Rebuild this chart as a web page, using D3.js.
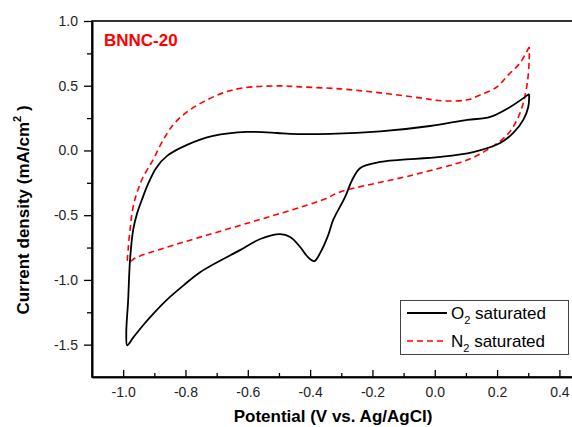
<!DOCTYPE html>
<html>
<head>
<meta charset="utf-8">
<script src="https://cdn.jsdelivr.net/npm/d3@7"></script>
<style>
  body { margin: 0; background: #fff; }
  svg { font-family: "Liberation Sans", Arial, sans-serif; }
</style>
</head>
<body>
<svg id="cv" width="572" height="427"></svg>
<script>
// O2 saturated scan (cathodic branch first, back up the anodic branch)
var o2Potential = [0.303, 0.300, 0.284, 0.252, 0.210, 0.123, 0.017, -0.111, -0.175, -0.239, -0.265, -0.288,
  -0.326, -0.342, -0.368, -0.387, -0.410, -0.432, -0.464, -0.496, -0.560, -0.625, -0.753, -0.807, -0.859, -0.897, -0.936, -0.968, -0.987,
  -0.990, -0.984, -0.978, -0.968, -0.955, -0.939, -0.920, -0.894, -0.859, -0.795, -0.711, -0.602, -0.506, -0.464, -0.336,
  -0.175, -0.015, 0.104, 0.178, 0.242, 0.303];
var o2Current = [0.437, 0.336, 0.236, 0.135, 0.058, -0.012, -0.050, -0.073, -0.089, -0.135, -0.228, -0.360,
  -0.537, -0.654, -0.793, -0.855, -0.816, -0.746, -0.669, -0.646, -0.684, -0.770, -0.940, -1.044, -1.152, -1.245, -1.350, -1.446, -1.505,
  -1.412, -1.157, -0.847, -0.615, -0.484, -0.375, -0.259, -0.135, -0.042, 0.043, 0.112, 0.143, 0.135, 0.128, 0.128,
  0.147, 0.189, 0.236, 0.259, 0.336, 0.437];

// N2 saturated scan
var n2Potential = [0.303, 0.274, 0.236, 0.200, 0.146, 0.104, 0.027, -0.047, -0.175, -0.304, -0.432, -0.496,
  -0.615, -0.679, -0.743, -0.795, -0.840, -0.875, -0.904, -0.936, -0.949, -0.961, -0.971, -0.978, -0.984, -0.984,
  -0.955, -0.361, -0.304, -0.069, 0.104, 0.168, 0.232, 0.264, 0.284, 0.297, 0.303, 0.303];
var n2Current = [0.800, 0.677, 0.584, 0.491, 0.429, 0.391, 0.383, 0.406, 0.445, 0.476, 0.491, 0.499,
  0.483, 0.445, 0.375, 0.298, 0.197, 0.066, -0.073, -0.205, -0.282, -0.367, -0.476, -0.615, -0.770, -0.862,
  -0.824, -0.383, -0.321, -0.189, -0.073, 0.004, 0.120, 0.236, 0.367, 0.522, 0.700, 0.800];

var xTicks = [-1.0, -0.8, -0.6, -0.4, -0.2, 0.0, 0.2, 0.4];
var xMinor = [-0.9, -0.7, -0.5, -0.3, -0.1, 0.1, 0.3];
var yTicks = [-1.5, -1.0, -0.5, 0.0, 0.5, 1.0];
var yMinor = [-1.25, -0.75, -0.25, 0.25, 0.75];

var svg = d3.select("#cv");

var x = d3.scaleLinear().domain([-1.1, 0.45]).range([92, 575]);
var y = d3.scaleLinear().domain([-1.75, 1.0]).range([377, 21]);

var fmt = function(d) { return d.toFixed(1); };

// frame (right edge falls outside the picture)
svg.append("rect")
  .attr("x", x(-1.1)).attr("y", y(1.0))
  .attr("width", x(0.45) - x(-1.1)).attr("height", y(-1.75) - y(1.0))
  .attr("fill", "none").attr("stroke", "#000").attr("stroke-width", 1.6);

svg.append("g").attr("transform", "translate(0," + y(-1.75) + ")")
  .call(d3.axisBottom(x).tickValues(xTicks).tickFormat(fmt).tickSizeInner(-7).tickSizeOuter(0).tickPadding(10));
svg.append("g").attr("transform", "translate(0," + y(-1.75) + ")")
  .call(d3.axisBottom(x).tickValues(xMinor).tickFormat("").tickSizeInner(-4).tickSizeOuter(0));

svg.append("g").attr("transform", "translate(" + x(-1.1) + ",0)")
  .call(d3.axisLeft(y).tickValues(yTicks).tickFormat(fmt).tickSizeInner(8).tickSizeOuter(0).tickPadding(6));
svg.append("g").attr("transform", "translate(" + x(-1.1) + ",0)")
  .call(d3.axisLeft(y).tickValues(yMinor).tickFormat("").tickSizeInner(5).tickSizeOuter(0));

svg.selectAll(".domain").attr("stroke", "#000").attr("stroke-width", 1.6);
svg.selectAll(".tick line").attr("stroke", "#000").attr("stroke-width", 1.3);
svg.selectAll(".tick text").attr("font-size", 14).attr("fill", "#222")
  .attr("font-family", "'Liberation Sans', Arial, sans-serif");

// curves
var line = d3.line()
  .x(function(d) { return x(d[0]); })
  .y(function(d) { return y(d[1]); })
  .curve(d3.curveCatmullRom.alpha(0.5));

var o2 = o2Potential.map(function(p, i) { return [p, o2Current[i]]; });
var n2 = n2Potential.map(function(p, i) { return [p, n2Current[i]]; });

svg.append("path").datum(n2)
  .attr("d", line)
  .attr("fill", "none").attr("stroke", "#ff0000").attr("stroke-width", 1.6)
  .attr("stroke-dasharray", "6,4");

svg.append("path").datum(o2)
  .attr("d", line)
  .attr("fill", "none").attr("stroke", "#000").attr("stroke-width", 1.8);

// labels
svg.append("text")
  .attr("x", 104).attr("y", 46)
  .attr("font-size", 17).attr("font-weight", "bold").attr("fill", "#ff0000")
  .text("BNNC-20");

svg.append("text")
  .attr("x", 333).attr("y", 422)
  .attr("text-anchor", "middle").attr("font-size", 17).attr("font-weight", "bold")
  .text("Potential (V vs. Ag/AgCl)");

var yTitle = svg.append("text")
  .attr("transform", "translate(29,210) rotate(-90)")
  .attr("text-anchor", "middle").attr("font-size", 17).attr("font-weight", "bold");
yTitle.append("tspan").text("Current density (mA/cm");
yTitle.append("tspan").attr("dy", -8).attr("font-size", 11).text("2");
yTitle.append("tspan").attr("dy", 8).text(" )");

// legend
var legend = svg.append("g");
legend.append("rect")
  .attr("x", 400.5).attr("y", 300.5).attr("width", 168).attr("height", 54)
  .attr("fill", "#fff").attr("stroke", "#444").attr("stroke-width", 1);

var legendItems = [
  { sym: "O", color: "#000", dash: null, width: 1.8 },
  { sym: "N", color: "#ff0000", dash: "6,4", width: 1.6 }
];
legendItems.forEach(function(d, i) {
  var cy = 313 + i * 28;
  legend.append("line")
    .attr("x1", 407).attr("x2", 447).attr("y1", cy).attr("y2", cy)
    .attr("stroke", d.color).attr("stroke-width", d.width)
    .attr("stroke-dasharray", d.dash);
  var t = legend.append("text").attr("x", 451).attr("y", cy + 6).attr("font-size", 17).attr("fill", "#000");
  t.append("tspan").text(d.sym);
  t.append("tspan").attr("dy", 5).attr("font-size", 11).text("2");
  t.append("tspan").attr("dy", -5).text(" saturated");
});
</script>
</body>
</html>
